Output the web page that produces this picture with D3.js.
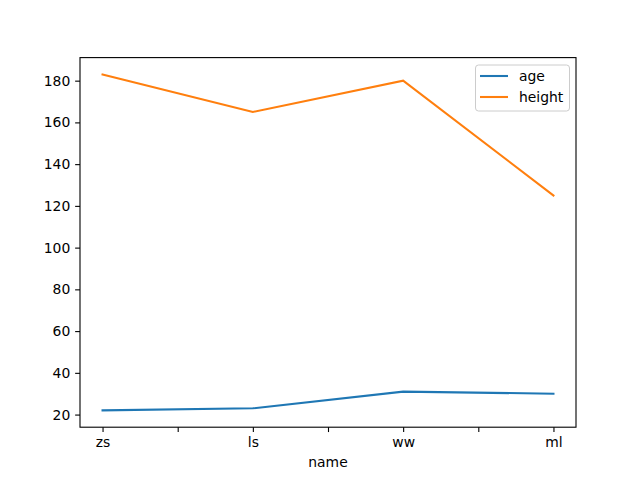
<!DOCTYPE html>
<html><head><meta charset="utf-8">
<script src="https://cdn.jsdelivr.net/npm/d3@7"></script>
<style>body{margin:0;background:#fff;} text{font-family:"DejaVu Sans",sans-serif;}</style>
</head><body><svg id="c" width="640" height="480"></svg>
<script>
const categories = ["zs","ls","ww","ml"];
const age = [22, 23, 31, 30];
const height = [183, 165, 180, 125];
const yTicks = [20,40,60,80,100,120,140,160,180];
const seriesNames = ["age","height"];
const colors = ["#1f77b4","#ff7f0e"];

const svg = d3.select("#c");
const L=80, R=576, T=57.6, B=427.2;
const allV = age.concat(height);
const mn = d3.min(allV), mx = d3.max(allV), pad=(mx-mn)*0.05;
const x = d3.scaleLinear().domain([-0.15, categories.length-1+0.15]).range([L,R]);
const y = d3.scaleLinear().domain([mn-pad, mx+pad]).range([B,T]);

const fs = 13.9;
// x axis ticks every 0.5
const xt = d3.range(0, categories.length-1+0.001, 0.5);
const xa = d3.axisBottom(x).tickValues(xt).tickSize(4.86).tickPadding(4.86)
  .tickFormat(d => Number.isInteger(d) ? categories[d] : "");
const gx = svg.append("g").attr("transform",`translate(0,${B})`).call(xa);
const ya = d3.axisLeft(y).tickValues(yTicks).tickSize(4.86).tickPadding(4.86);
const gy = svg.append("g").attr("transform",`translate(${L},0)`).call(ya);
[gx,gy].forEach(g=>{
  g.select(".domain").remove();
  g.selectAll(".tick line").attr("stroke","#000").attr("stroke-width",1.1);
  g.selectAll(".tick text").attr("fill","#000").style("font-size",fs+"px").style("font-family","DejaVu Sans");
});

const line = d3.line().x((d,i)=>x(i)).y(d=>y(d));
[age,height].forEach((s,k)=>{
  svg.append("path").datum(s).attr("d",line).attr("fill","none")
    .attr("stroke",colors[k]).attr("stroke-width",2.08).attr("stroke-linecap","square");
});

svg.append("rect").attr("x",L).attr("y",T).attr("width",R-L).attr("height",B-T)
  .attr("fill","none").attr("stroke","#000").attr("stroke-width",1.1);

svg.append("text").attr("x",(L+R)/2).attr("y",467).attr("text-anchor","middle")
  .style("font-size",fs+"px").text("name");

// legend
const lg = svg.append("g");
lg.append("rect").attr("x",475.5).attr("y",65).attr("width",94).attr("height",46)
  .attr("rx",3).attr("fill","#fff").attr("fill-opacity",0.8).attr("stroke","#ccc").attr("stroke-width",1);
seriesNames.forEach((n,k)=>{
  const yy = 76 + k*21;
  lg.append("line").attr("x1",480).attr("x2",508).attr("y1",yy).attr("y2",yy)
    .attr("stroke",colors[k]).attr("stroke-width",2.08);
  lg.append("text").attr("x",519).attr("y",yy+5).style("font-size",fs+"px").text(n);
});
</script></body></html>
